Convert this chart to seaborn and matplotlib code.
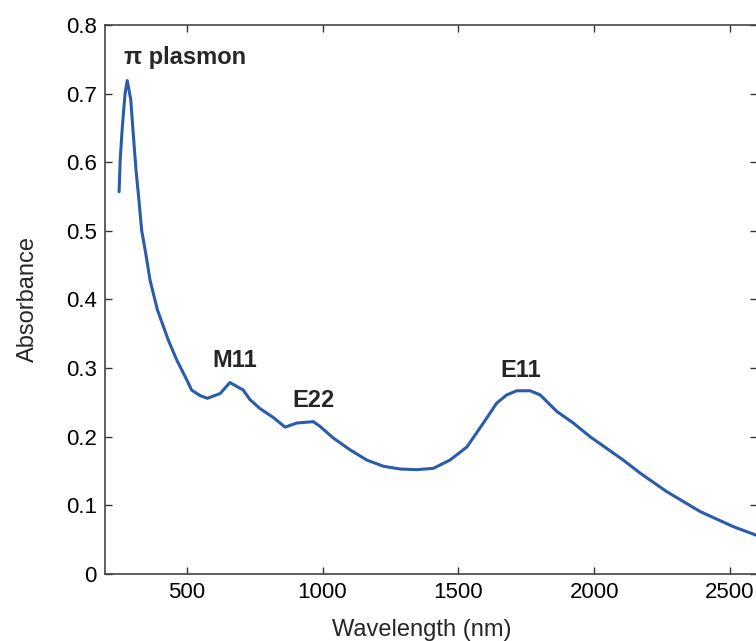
import matplotlib
matplotlib.use("Agg")
import matplotlib.pyplot as plt
import seaborn as sns
import pandas as pd

wavelength = [251, 255, 263, 273, 281, 294, 303, 313, 324, 334, 350, 365, 392, 432, 463,
              500, 518, 549, 576, 623, 659, 708, 733, 770, 819, 862, 905, 966, 991, 1040, 1101,
              1163, 1224, 1285, 1347, 1408, 1469, 1531, 1592, 1641, 1678, 1715, 1764, 1801,
              1862, 1923, 1985, 2046, 2107, 2169, 2267, 2390, 2512, 2600]
absorbance = [0.557, 0.603, 0.652, 0.700, 0.719, 0.691, 0.642, 0.590, 0.545, 0.501, 0.465,
              0.428, 0.385, 0.341, 0.312, 0.283, 0.268, 0.260, 0.256, 0.263, 0.279, 0.268, 0.254,
              0.241, 0.228, 0.214, 0.220, 0.222, 0.215, 0.198, 0.181, 0.166, 0.157, 0.153,
              0.152, 0.154, 0.166, 0.185, 0.220, 0.249, 0.261, 0.267, 0.267, 0.261, 0.237,
              0.220, 0.200, 0.183, 0.166, 0.147, 0.120, 0.091, 0.069, 0.056]

x_ticks = [500, 1000, 1500, 2000, 2500]
x_tick_labels = ["500", "1000", "1500", "2000", "2500"]
y_ticks = [0, 0.1, 0.2, 0.3, 0.4, 0.5, 0.6, 0.7, 0.8]
y_tick_labels = ["0", "0.1", "0.2", "0.3", "0.4", "0.5", "0.6", "0.7", "0.8"]

peak_labels = ["\u03c0 plasmon", "M11", "E22", "E11"]
peak_label_x = [494, 678, 965, 1728]
peak_label_y = [0.753, 0.311, 0.2535, 0.296]

sns.set_theme(style="ticks")
plt.rcParams["font.family"] = ["Liberation Sans", "DejaVu Sans"]

df = pd.DataFrame({"Wavelength (nm)": wavelength, "Absorbance": absorbance})

fig = plt.figure(figsize=(7.56, 6.41), dpi=100)
ax = fig.add_axes([0.1392, 0.10452, 0.8624, 0.8565])

sns.lineplot(data=df, x="Wavelength (nm)", y="Absorbance", ax=ax,
             color="#2a5caa", linewidth=2.2)

ax.set_xlim(200, 2600)
ax.set_ylim(0, 0.8)
ax.set_xticks(x_ticks)
ax.set_xticklabels(x_tick_labels)
ax.set_yticks(y_ticks)
ax.set_yticklabels(y_tick_labels)

ax.tick_params(direction="in", length=5, width=1.0, colors="#333333",
               labelcolor="black", labelsize=16, top=True, right=True, pad=6)
for s in ax.spines.values():
    s.set_color("#444444")
    s.set_linewidth(1.2)

ax.set_xlabel("Wavelength (nm)", fontsize=17)
ax.set_ylabel("Absorbance", fontsize=17)
ax.xaxis.set_label_coords(0.486, -0.082)
ax.yaxis.set_label_coords(-0.102, 0.5)

for t, x, y in zip(peak_labels, peak_label_x, peak_label_y):
    ax.text(x, y, t, fontsize=17, fontweight="bold", ha="center", va="center")

fig.savefig("out.png", dpi=100)
